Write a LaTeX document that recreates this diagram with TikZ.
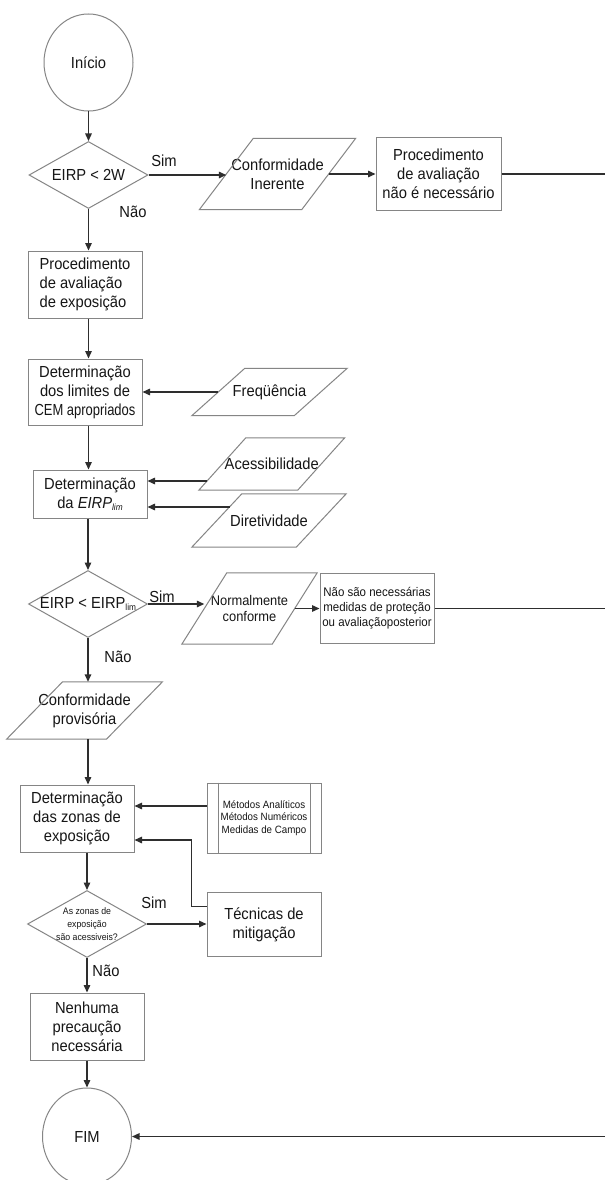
\documentclass[tikz,border=0pt]{standalone}
\usepackage{fontspec}
\usepackage{graphicx}
\setmainfont{Liberation Sans}[FakeStretch=0.92]
\usetikzlibrary{shapes.geometric,arrows.meta,calc}
\definecolor{bordercol}{HTML}{858585}
\definecolor{linecol}{HTML}{2E2E2E}
\definecolor{txtcol}{HTML}{161616}
\newcommand\paral[2]{\draw[border] ([xshift=-#2]#1.south west) -- ([xshift=-#2]#1.south east) -- ([xshift=#2]#1.north east) -- ([xshift=#2]#1.north west) -- cycle;}
\begin{document}
\begin{tikzpicture}[x=1pt,y=-1pt,
  border/.style={draw=bordercol, line width=1pt},
  big/.style={font=\fontsize{16}{19}\selectfont},
  box/.style={border, big, rectangle, inner sep=0pt, align=center, text=txtcol, minimum width=114pt},
  term/.style={border, big, ellipse, inner sep=0pt, minimum width=89pt, minimum height=97pt, text=txtcol},
  decision/.style={border, diamond, inner sep=0pt, minimum width=119pt, minimum height=67pt},
  dtext/.style={big, align=center, text=txtcol, inner sep=0pt},
  para/.style={rectangle, inner sep=0pt, big, align=center, text=txtcol},
  arr/.style={draw=linecol, line width=1.4pt, -{Triangle[length=7.5pt,width=6.5pt]}},
  ln/.style={draw=linecol, line width=1.4pt},
  lbl/.style={big, text=txtcol, inner sep=0pt},
]
\fill[white] (0,0) rectangle (605,1180);
\useasboundingbox (0,0) rectangle (605,1180);

% nodes
\node[term] (ini) at (88.5,62.5) {Início};
\node[decision, label={[dtext]center:EIRP < 2W}] (d1) at (88.5,175) {};
\node[para, minimum width=102pt, minimum height=71pt] (c1) at (277.5,174) {Conformidade\\Inerente};
\paral{c1}{27pt}
\node[box, minimum width=125pt, minimum height=72pt] (pn) at (438.5,174) {Procedimento\\de avaliação\\não é necessário};
\node[box, minimum height=67pt, align=left] (pe) at (85,284.5) {Procedimento\\de avaliação\\de exposição};
\node[box, minimum height=66pt] (dl) at (85,392) {Determinação\\dos limites de\\\scalebox{0.88}[1]{CEM apropriados}};
\node[para, minimum width=102pt, minimum height=47pt] (fq) at (269.5,392) {Freqüência};
\paral{fq}{26.5pt}
\node[box, minimum height=48pt] (de) at (90,494) {Determinação\\da \textit{EIRP}\raisebox{-2pt}{\fontsize{9}{9}\selectfont\textit{lim}}};
\node[para, minimum width=98.5pt, minimum height=52pt] (ac) at (271.75,464) {Acessibilidade};
\paral{ac}{23.5pt}
\node[para, minimum width=104pt, minimum height=53pt] (di) at (269,520.5) {Diretividade};
\paral{di}{25pt}
\node[decision, label={[dtext]center:EIRP < EIRP\raisebox{-2pt}{\fontsize{9}{9}\selectfont lim}}] (d2) at (88,604) {};
\node[para, font=\fontsize{14}{16}\selectfont, minimum width=90pt, minimum height=71pt] (nc) at (249.5,608.5) {Normalmente\\conforme};
\paral{nc}{22.5pt}
\node[box, font=\fontsize{12.5}{15}\selectfont, minimum height=70pt] (nn) at (377,608.5) {Não são necessárias\\medidas de proteção\\ou avaliaçãoposterior};
\node[para, minimum width=99.5pt, minimum height=57pt] (cp) at (84.5,710.5) {Conformidade\\provisória};
\paral{cp}{28pt}
\node[box, minimum height=67pt] (dz) at (77,818.5) {Determinação\\das zonas de\\exposição};
\node[box, font=\fontsize{10.6}{12.7}\selectfont, minimum height=70pt] (mt) at (264,818) {Métodos Analíticos\\Métodos Numéricos\\Medidas de Campo};
\draw[border] ([xshift=12pt]mt.north west) -- ([xshift=12pt]mt.south west);
\draw[border] ([xshift=-11pt]mt.north east) -- ([xshift=-11pt]mt.south east);
\node[decision, label={[dtext, font=\fontsize{9.5}{12.7}\selectfont]center:As zonas de\\exposição\\são acessiveis?}] (d3) at (87,924) {};
\node[box, minimum height=64pt] (tm) at (264,924.5) {Técnicas de\\mitigação};
\node[box, minimum height=67pt] (nh) at (87,1026.5) {Nenhuma\\precaução\\necessária};
\node[term] (fim) at (87,1136.5) {FIM};

% branch labels
\node[lbl] (s1) at (164,161) {Sim};
\node[lbl] (n1) at (133,212) {Não};
\node[lbl] (s2) at (162,597) {Sim};
\node[lbl] (n2) at (118,657) {Não};
\node[lbl] (s3) at (154,903) {Sim};
\node[lbl] (n3) at (106,971) {Não};

% edge coordinates
\coordinate (r1) at (605,174);
\coordinate (r2) at (605,608.5);
\coordinate (r3) at (605,1136.5);
\coordinate (de1) at ([yshift=13pt]de.east);
\coordinate (de2) at ([yshift=-13pt]de.east);
\coordinate (acx) at ([xshift=-15pt]ac.west);
\coordinate (dix) at ([xshift=12.7pt]di.west);
\coordinate (dz1) at ([yshift=12.5pt]dz.east);
\coordinate (dz2) at ([yshift=-21.5pt]dz.east);
\coordinate (tmA) at ([yshift=18pt]tm.west);

% connectors
\draw[arr] (ini.south) -- (d1.north);
\draw[arr] (d1.east) -- (d1.east -| c1.west);
\draw[arr] (c1.east) -- (pn.west);
\draw[ln] (pn.east) -- (pn.east -| r1);
\draw[arr] (d1.south) -- (d1.south |- pe.north);
\draw[arr] (pe.south -| ini) -- (dl.north -| ini);
\draw[arr] (fq.west) -- (fq.west -| dl.east);
\draw[arr] (dl.south -| ini) -- (de.north -| ini);
\draw[arr] (acx |- de1) -- (de1);
\draw[arr] (dix |- de2) -- (de2);
\draw[arr] (de.south -| d2.north) -- (d2.north);
\draw[arr] (d2.east) -- (d2.east -| nc.west);
\draw[arr] (nc.east) -- (nc.east -| nn.west);
\draw[ln] (nn.east) -- (nn.east -| r2);
\draw[arr] (d2.south) -- (d2.south |- cp.north);
\draw[arr] (cp.south -| d2) -- (dz.north -| d2);
\draw[arr] (mt.west |- dz1) -- (dz1);
\draw[arr] (tmA) -- ++(-15,0) |- (dz2);
\draw[arr] (dz.south -| d3) -- (d3.north);
\draw[arr] (d3.east) -- (d3.east -| tm.west);
\draw[arr] (d3.south) -- (d3.south |- nh.north);
\draw[arr] (nh.south -| fim) -- (fim.north);
\draw[arr] (r3) -- (fim.east);
\end{tikzpicture}
\end{document}
